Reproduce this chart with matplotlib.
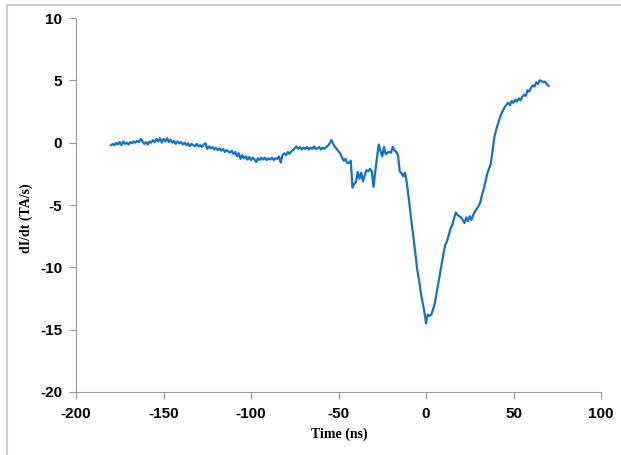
import numpy as np
import matplotlib
matplotlib.use("Agg")
import matplotlib.pyplot as plt
from matplotlib.lines import Line2D

plt.rcParams["axes.unicode_minus"] = False

# time axis in ns, one sample per ns
time_ns = np.arange(-180, 71)

# dI/dt in TA/s
didt = [
    -0.2, -0.1, -0.2, 0.0, -0.15, 0.05, -0.2, 0.1, -0.1, 0.0,          # -180
    -0.15, 0.05, -0.05, 0.1, 0.0, 0.15, 0.05, 0.3, 0.1, -0.1,          # -170
    0.05, -0.15, 0.1, 0.0, 0.2, 0.05, 0.3, 0.1, 0.35, 0.0,             # -160
    0.3, 0.1, 0.35, 0.05, 0.25, 0.0, 0.15, -0.1, 0.1, -0.05,           # -150
    0.05, -0.15, 0.0, -0.2, -0.05, -0.3, -0.1, -0.2, -0.3, -0.1,       # -140
    -0.3, -0.2, -0.35, -0.15, -0.05, -0.5, -0.3, -0.45, -0.35, -0.55,  # -130
    -0.4, -0.6, -0.45, -0.65, -0.5, -0.75, -0.6, -0.7, -0.8, -0.65,    # -120
    -0.9, -0.75, -1.1, -0.85, -1.3, -1.0, -1.25, -1.1, -1.35, -1.15,   # -110
    -1.4, -1.2, -1.35, -1.55, -1.25, -1.4, -1.2, -1.35, -1.2, -1.4,    # -100
    -1.25, -1.35, -1.2, -1.4, -1.25, -1.3, -1.1, -1.6, -1.0, -0.85,    # -90
    -1.0, -0.75, -0.9, -0.7, -0.6, -0.45, -0.3, -0.5, -0.35, -0.55,    # -80
    -0.4, -0.5, -0.35, -0.55, -0.4, -0.5, -0.3, -0.5, -0.45, -0.35,    # -70
    -0.55, -0.4, -0.5, -0.35, -0.25, -0.05, 0.2, -0.1, -0.35, -0.5,    # -60
    -0.7, -0.85, -1.2, -1.45, -1.3, -1.65, -1.6, -1.45, -3.6, -3.3,    # -50
    -3.15, -2.35, -2.9, -2.4, -3.1, -2.6, -2.2, -2.3, -2.1, -2.3,      # -40
    -3.55, -2.3, -1.2, -0.15, -0.65, -1.1, -0.35, -0.95, -0.8, -0.75,  # -30
    -0.8, -0.35, -0.6, -0.75, -1.0, -2.3, -2.45, -2.7, -2.4, -3.2,     # -20
    -4.3, -5.5, -6.7, -7.8, -9.0, -10.2, -11.0, -12.0, -12.8, -13.5,   # -10
    -14.5, -13.8, -13.9, -13.8, -13.4, -12.9, -12.1, -11.3, -10.5, -9.7,  # 0
    -8.9, -8.2, -7.9, -7.4, -6.9, -6.6, -6.1, -5.6, -5.8, -5.9,        # 10
    -6.0, -6.2, -6.45, -6.0, -6.3, -5.9, -6.2, -5.8, -5.5, -5.3,       # 20
    -5.1, -4.8, -4.2, -3.7, -3.1, -2.5, -2.1, -1.7, -0.7, 0.4,         # 30
    1.0, 1.45, 1.9, 2.3, 2.6, 2.85, 3.05, 3.2, 3.0, 3.35,              # 40
    3.2, 3.45, 3.3, 3.55, 3.4, 3.7, 3.85, 3.75, 4.2, 4.1,              # 50
    4.4, 4.6, 4.5, 4.85, 4.7, 5.0, 4.95, 4.85, 4.9, 4.7,               # 60
    4.55,                                                              # 70
]

x_ticks = [-200, -150, -100, -50, 0, 50, 100]
y_ticks = [-20, -15, -10, -5, 0, 5, 10]

fig = plt.figure(figsize=(6.21, 4.55), dpi=100)
ax = fig.add_axes([0.1224, 0.1385, 0.8454, 0.8219])

# light grey frame round the chart area (left and top edges are in view)
fx = 6.5 / 621
fy = 1 - 4.5 / 455
fig.add_artist(Line2D([fx, fx], [0, fy], transform=fig.transFigure,
                      color="#d0d0d0", linewidth=1.5))
fig.add_artist(Line2D([fx, 1], [fy, fy], transform=fig.transFigure,
                      color="#d0d0d0", linewidth=1.5))

ax.plot(time_ns, didt, color="#1273c4", linewidth=1.6)

ax.set_xlim(-200, 100)
ax.set_ylim(-20, 10)
ax.set_xticks(x_ticks)
ax.set_yticks(y_ticks)

for s in ["top", "right"]:
    ax.spines[s].set_visible(False)
for s in ["left", "bottom"]:
    ax.spines[s].set_color("#9a9a9a")
    ax.spines[s].set_linewidth(0.8)

ax.tick_params(direction="out", length=5, width=0.8, color="#9a9a9a",
               labelsize=11)
ax.tick_params(axis="x", pad=6)
ax.tick_params(axis="y", pad=5)
for lab in ax.get_xticklabels() + ax.get_yticklabels():
    lab.set_fontfamily("Liberation Sans")
    lab.set_fontweight("bold")

ax.set_xlabel("Time (ns)", fontfamily="Liberation Serif", fontweight="bold",
              fontsize=10)
ax.set_ylabel("dI/dt (TA/s)", fontfamily="Liberation Serif", fontweight="bold",
              fontsize=10)
ax.xaxis.set_label_coords(0.502, -0.095)
ax.yaxis.set_label_coords(-0.082, 0.465)

fig.savefig("out.png", dpi=100)
